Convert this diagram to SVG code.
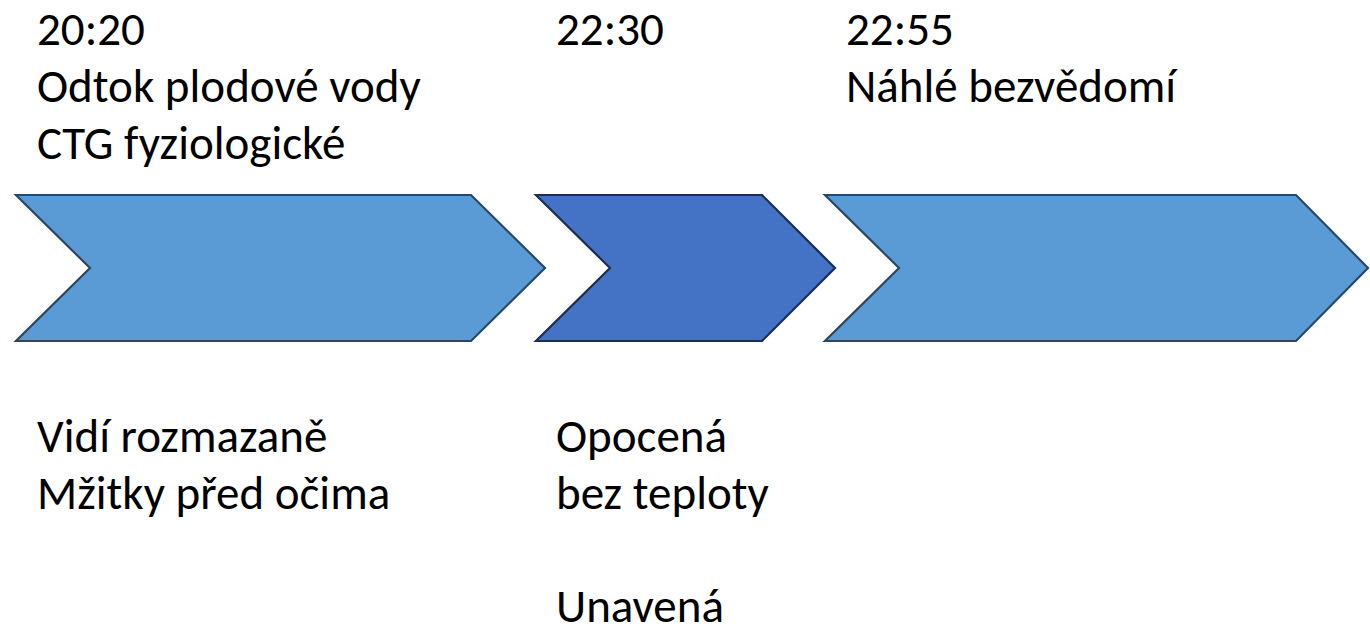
<svg xmlns="http://www.w3.org/2000/svg" width="1370" height="629" viewBox="0 0 1370 629">
  <style>
    .lbl { font-family: Carlito, Calibri, Lato, "Open Sans", sans-serif; font-size: 47px; fill: #000; }
    .light { fill: #5B9BD5; stroke: #2A4866; stroke-width: 2.2; stroke-linejoin: miter; }
    .dark { fill: #4472C4; stroke: #1B2E55; stroke-width: 2.2; stroke-linejoin: miter; }
  </style>
  <rect width="1370" height="629" fill="#ffffff"/>

  <!-- timeline chevrons with their notes above and below -->
  <g id="step-2020">
    <polygon class="light" points="16,195 471,195 545,268 471,341 16,341 90,268"/>
    <text class="lbl" x="37" y="45">20:20</text>
    <text class="lbl" x="37" y="102">Odtok plodové vody</text>
    <text class="lbl" x="37" y="159">CTG fyziologické</text>
    <text class="lbl" x="37" y="452">Vidí rozmazaně</text>
    <text class="lbl" x="37" y="509">Mžitky před očima</text>
  </g>

  <g id="step-2230">
    <polygon class="dark" points="536,195 762,195 835,268 762,341 536,341 610,268"/>
    <text class="lbl" x="556" y="45">22:30</text>
    <text class="lbl" x="556" y="452">Opocená</text>
    <text class="lbl" x="556" y="509">bez teploty</text>
    <text class="lbl" x="556" y="622">Unavená</text>
  </g>

  <g id="step-2255">
    <polygon class="light" points="825,195 1296,195 1368,268 1296,341 825,341 899,268"/>
    <text class="lbl" x="846" y="45">22:55</text>
    <text class="lbl" x="846" y="102">Náhlé bezvědomí</text>
  </g>

  <g id="connectors"></g>
</svg>
